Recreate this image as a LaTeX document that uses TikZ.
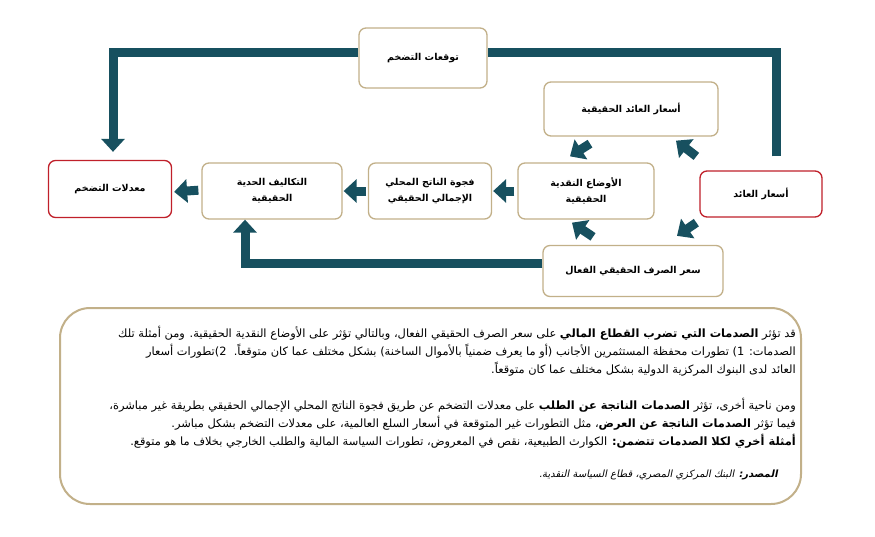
\documentclass[tikz,border=0pt]{standalone}
\usepackage{fontspec}
\usetikzlibrary{arrows.meta}
\TeXXeTstate=1
\newfontfamily\arabicfont[Script=Arabic]{DejaVu Sans}
\newfontfamily\arabicsl[Script=Arabic,FakeSlant=0.2,BoldFeatures={FakeSlant=0.2}]{DejaVu Sans}
\newcommand{\rtl}[1]{\beginR #1\endR}

\definecolor{flowteal}{HTML}{17505F}
\definecolor{boxtan}{HTML}{C2B089}
\definecolor{boxred}{HTML}{C0202A}

\tikzset{
  box/.style={draw=boxtan, line width=1.3pt, rounded corners=7pt, fill=white,
    align=center, inner sep=2pt,
    font=\arabicfont\bfseries\fontsize{9.5}{16}\selectfont},
  keybox/.style={box, draw=boxred},
  flow/.style={draw=flowteal, line width=9pt},
  blk/.style={flow, -{Triangle[length=13pt,width=23pt]}},
  bodyline/.style={anchor=east, inner sep=0pt,
    font=\arabicfont\fontsize{11.4}{14}\selectfont},
}

\begin{document}
\begin{tikzpicture}[x=1pt,y=-1pt]
  \path[use as bounding box,fill=white] (0,0) rectangle (875,536);

  % boxes of the scheme
  \node[keybox, minimum width=123pt, minimum height=57pt] (infl) at (110,189) {\rtl{معدلات التضخم}};
  \node[box, minimum width=140pt, minimum height=56pt] (marg) at (272,191) {\rtl{التكاليف الحدية}\\\rtl{الحقيقية}};
  \node[box, minimum width=123pt, minimum height=56pt] (gap) at (430,191) {\rtl{فجوة الناتج المحلي}\\\rtl{الإجمالي الحقيقي}};
  \node[box, minimum width=136pt, minimum height=56pt] (mon) at (586,191) {\rtl{الأوضاع النقدية}\\\rtl{الحقيقية}};
  \node[keybox, minimum width=122pt, minimum height=46pt] (yld) at (761,194) {\rtl{أسعار العائد}};
  \node[box, minimum width=174pt, minimum height=54pt] (rret) at (631,109) {\rtl{أسعار العائد الحقيقية}};
  \node[box, minimum width=128pt, minimum height=60pt] (expt) at (423,58) {\rtl{توقعات التضخم}};
  \node[box, minimum width=180pt, minimum height=51pt] (reer) at (633,271) {\rtl{سعر الصرف الحقيقي الفعال}};

  % channels
  \draw[blk, shorten <=3pt, shorten >=2pt] ([yshift=1pt]marg.west) -- ([yshift=-1pt]infl.east |- marg.west);
  \draw[blk, shorten <=2pt, shorten >=1pt] (gap.west) -- (marg.east);
  \draw[blk, shorten <=3pt, shorten >=1pt] (mon.west) -- (gap.east);
  \draw[blk] ([yshift=6pt]expt.west) -| ([xshift=3pt,yshift=8pt]infl.north);
  \draw[flow] ([xshift=15pt,yshift=14pt]yld.north) |- ([yshift=6pt]expt.east);
  \draw[blk] ([yshift=8pt]reer.west) -| ([xshift=-27pt]marg.south);

  % short arrows round the monetary conditions
  \draw[blk] ([shift={(-41pt,-7pt)}]rret.south) -- ([shift={(-16pt,6pt)}]mon.north);
  \draw[blk] ([shift={(-3pt,14pt)}]yld.north west) -- ([shift={(45pt,-4pt)}]rret.south);
  \draw[blk] ([shift={(-3pt,-5pt)}]yld.south west) -- ([shift={(44pt,9pt)}]reer.north);
  \draw[blk] ([shift={(-40pt,8pt)}]reer.north) -- ([shift={(-14pt,-3pt)}]mon.south);

  % note below
  \draw[boxtan, line width=2pt, rounded corners=30pt] (60,308) rectangle (801,504);
  \node[bodyline] (l1) at (796,333) {\rtl{قد تؤثر \textbf{الصدمات التي تضرب القطاع المالي} على سعر الصرف الحقيقي الفعال، وبالتالي تؤثر على الأوضاع النقدية الحقيقية. ومن أمثلة تلك}};
  \node[bodyline] (l2) at (796,351) {\rtl{الصدمات: 1) تطورات محفظة المستثمرين الأجانب (أو ما يعرف ضمنياً بالأموال الساخنة) بشكل مختلف عما كان متوقعاً.~~2)تطورات أسعار}};
  \node[bodyline] (l3) at (796,369) {\rtl{العائد لدى البنوك المركزية الدولية بشكل مختلف عما كان متوقعاً.}};
  \node[bodyline] (l4) at (796,405) {\rtl{ومن ناحية أخرى، تؤثر \textbf{الصدمات الناتجة عن الطلب} على معدلات التضخم عن طريق فجوة الناتج المحلي الإجمالي الحقيقي بطريقة غير مباشرة،}};
  \node[bodyline] (l5) at (796,423) {\rtl{فيما تؤثر \textbf{الصدمات الناتجة عن العرض}، مثل التطورات غير المتوقعة في أسعار السلع العالمية، على معدلات التضخم بشكل مباشر.}};
  \node[bodyline] (l6) at (796,441) {\rtl{\textbf{أمثلة أخري لكلا الصدمات تتضمن:} الكوارث الطبيعية، نقص في المعروض، تطورات السياسة المالية والطلب الخارجي بخلاف ما هو متوقع.}};
  \node[bodyline, anchor=east, font=\arabicsl\fontsize{10}{12}\selectfont] (src) at (778,475) {\rtl{\textbf{المصدر:} البنك المركزي المصري، قطاع السياسة النقدية.}};
\end{tikzpicture}
\end{document}
